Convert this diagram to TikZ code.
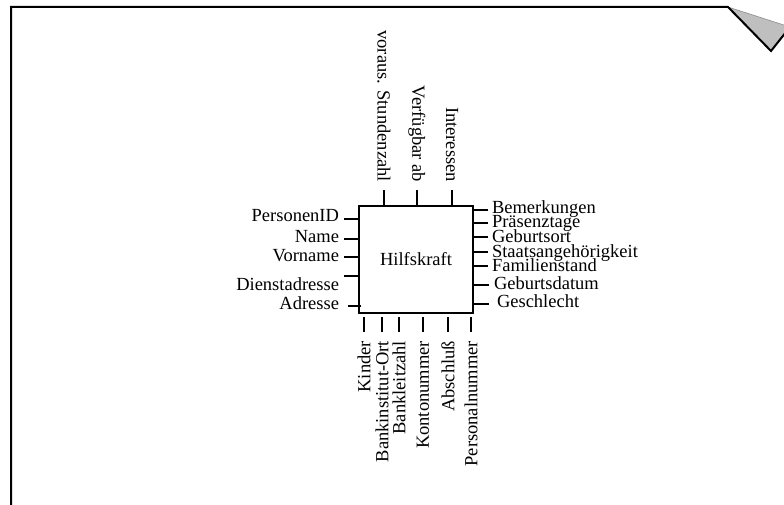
\documentclass[tikz,border=0pt]{standalone}
\usepackage{fontspec}
\setmainfont{Liberation Serif}
\begin{document}
\begin{tikzpicture}[x=1pt,y=-1pt,
  attr/.style={inner sep=0pt,outer sep=0pt,font=\fontsize{18.5}{20}\selectfont},
  tickline/.style={line width=1.2pt},
  entitybox/.style={draw,line width=1.4pt,minimum width=114pt,minimum height=107pt,
    inner sep=0pt,font=\fontsize{18.5}{20}\selectfont},
  pageedge/.style={line width=2pt,line join=miter},
  foldflap/.style={fill=black!25,draw=black!45,line width=0.6pt}]
\useasboundingbox (0,0) rectangle (784,505);
\clip (0,0) rectangle (784,505);

% sheet outline with the turned-down corner
\coordinate (pgA) at (11,520);
\coordinate (pgB) at (11,7);
\coordinate (pgC) at (728,7);
\coordinate (pgD) at (771,51);
\coordinate (pgE) at (790,27);
\fill[foldflap] (pgC) -- (pgD) -- (pgE) -- cycle;
\draw[pageedge] (pgA) -- (pgB) -- (pgC) -- (pgD) -- (pgE);

% entity
\node[entitybox] (hk) at (416,259.5) {Hilfskraft};

% attributes on the left
\node[attr,anchor=base east] (lPid) at (339,222) {PersonenID};
\node[attr,anchor=base east] (lName) at (339,242) {Name};
\node[attr,anchor=base east] (lVorname) at (339,261) {Vorname};
\node[attr,anchor=base east] (lDienst) at (339,290) {Dienstadresse};
\node[attr,anchor=base east] (lAdresse) at (339,309) {Adresse};
\coordinate (tPid) at (344,219);
\coordinate (tName) at (344,239);
\coordinate (tVorname) at (344,257);
\coordinate (tDienst) at (344,276);
\coordinate (tAdresse) at (348,306);
\foreach \t in {tPid,tName,tVorname,tDienst}
  \draw[tickline] (\t) -- (\t -| hk.west);
\draw[tickline] (tAdresse) -- ([xshift=3pt]tAdresse -| hk.west);

% attributes on the right
\node[attr,anchor=base west] (rBem) at (492,213) {Bemerkungen};
\node[attr,anchor=base west] (rPraes) at (492,227) {Präsenztage};
\node[attr,anchor=base west] (rGebort) at (492,242) {Geburtsort};
\node[attr,anchor=base west] (rStaat) at (492,257) {Staatsangehörigkeit};
\node[attr,anchor=base west] (rFam) at (492,271) {Familienstand};
\node[attr,anchor=base west] (rGebdat) at (494,289) {Geburtsdatum};
\node[attr,anchor=base west] (rGeschl) at (497,307) {Geschlecht};
\coordinate (sBem) at (488,210);
\coordinate (sPraes) at (488,223);
\coordinate (sGebort) at (488,237);
\coordinate (sStaat) at (488,252);
\coordinate (sFam) at (488,266);
\coordinate (sGebdat) at (489,285);
\coordinate (sGeschl) at (489,304);
\foreach \t in {sBem,sPraes,sGebort,sStaat,sFam,sGebdat,sGeschl}
  \draw[tickline] (\t) -- (\t -| hk.east);

% attributes above
\node[attr,rotate=-90,anchor=east] (uStd) at (384,182) {voraus. Stundenzahl};
\node[attr,rotate=-90,anchor=east] (uVerf) at (417,182) {Verfügbar ab};
\node[attr,rotate=-90,anchor=east] (uInt) at (452,182) {Interessen};
\coordinate (vStd) at (384,190);
\coordinate (vVerf) at (417,190);
\coordinate (vInt) at (452,190);
\foreach \t in {vStd,vVerf,vInt}
  \draw[tickline] (\t) -- (\t |- hk.north);

% attributes below
\node[attr,rotate=90,anchor=east] (dKinder) at (364,341) {Kinder};
\node[attr,rotate=90,anchor=east] (dBankort) at (382,341) {Bankinstitut-Ort};
\node[attr,rotate=90,anchor=east] (dBlz) at (399,341) {Bankleitzahl};
\node[attr,rotate=90,anchor=east] (dKonto) at (423,341) {Kontonummer};
\node[attr,rotate=90,anchor=east] (dAbschl) at (448,341) {Abschluß};
\node[attr,rotate=90,anchor=east] (dPers) at (471,341) {Personalnummer};
\coordinate (wKinder) at (364,332);
\coordinate (wBankort) at (382,332);
\coordinate (wBlz) at (399,332);
\coordinate (wKonto) at (423,332);
\coordinate (wAbschl) at (448,332);
\coordinate (wPers) at (471,332);
\foreach \t in {wKinder,wBankort,wBlz,wKonto,wAbschl,wPers}
  \draw[tickline] (\t) -- ++(0,-15);
\end{tikzpicture}
\end{document}
